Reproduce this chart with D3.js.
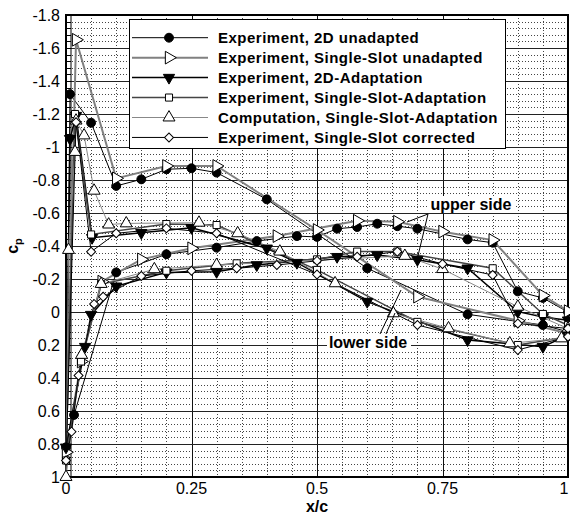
<!DOCTYPE html>
<html>
<head>
<meta charset="utf-8">
<script src="https://cdn.jsdelivr.net/npm/d3@7/dist/d3.min.js"></script>
<style>
body{margin:0;background:#fff;}
text{font-family:"Liberation Sans",Arial,Helvetica,sans-serif;}
</style>
</head>
<body>
<svg id="chart"></svg>
<script>

// axis ticks
var xTicks = [0, 0.25, 0.5, 0.75, 1];
var xTickLabels = ["0", "0.25", "0.5", "0.75", "1"];
var yTicks = [-1.8, -1.6, -1.4, -1.2, -1, -0.8, -0.6, -0.4, -0.2, 0, 0.2, 0.4, 0.6, 0.8, 1];
var yTickLabels = ["-1.8", "-1.6", "-1.4", "-1.2", "-1", "-0.8", "-0.6", "-0.4", "-0.2", "0", "0.2", "0.4", "0.6", "0.8", "1"];

var seriesNames = [
  "Experiment, 2D unadapted",
  "Experiment, Single-Slot unadapted",
  "Experiment, 2D-Adaptation",
  "Experiment, Single-Slot-Adaptation",
  "Computation, Single-Slot-Adaptation",
  "Experiment, Single-Slot corrected"
];

// each series: upper side from trailing edge to leading edge, then lower side back to trailing edge
var unadapted2dX  = [1.0, 0.95, 0.9, 0.85, 0.8, 0.7, 0.66, 0.62, 0.58, 0.54, 0.5, 0.46, 0.38, 0.3, 0.2, 0.1, 0.016, 0.0, 0.008, 0.05, 0.1, 0.15, 0.2, 0.25, 0.3, 0.4, 0.6, 0.8, 0.95, 1.0];
var unadapted2dCp = [0.0, -0.085, -0.125, -0.42, -0.44, -0.505, -0.52, -0.535, -0.515, -0.505, -0.455, -0.46, -0.43, -0.39, -0.35, -0.24, 0.624, 0.82, -1.32, -1.147, -0.764, -0.804, -0.865, -0.871, -0.845, -0.683, -0.265, 0.014, 0.079, 0.12];

var unadaptedSlotX  = [1.0, 0.95, 0.85, 0.75, 0.66, 0.58, 0.42, 0.25, 0.15, 0.071, 0.03, 0.0, 0.02, 0.1, 0.2, 0.3, 0.5, 0.7, 0.9, 1.0];
var unadaptedSlotCp = [-0.005, -0.1, -0.436, -0.487, -0.547, -0.553, -0.46, -0.386, -0.319, -0.184, 0.3, 0.85, -1.65, -0.81, -0.885, -0.885, -0.497, -0.093, 0.053, 0.13];

var adapted2dX  = [1.0, 0.95, 0.9, 0.8, 0.7, 0.62, 0.54, 0.38, 0.3, 0.2, 0.1, 0.05, 0.038, 0.0, 0.008, 0.02, 0.052, 0.15, 0.25, 0.4, 0.46, 0.6, 0.8, 0.95, 1.0];
var adapted2dCp = [0.05, 0.03, -0.002, -0.265, -0.317, -0.345, -0.335, -0.285, -0.244, -0.24, -0.156, 0.016, 0.21, 0.82, -1.05, -1.19, -0.45, -0.48, -0.51, -0.386, -0.299, -0.063, 0.17, 0.21, 0.14];

var adaptedSlotX  = [1.0, 0.95, 0.85, 0.66, 0.58, 0.5, 0.34, 0.2, 0.07, 0.03, 0.0, 0.018, 0.05, 0.2, 0.3, 0.5, 0.7, 0.9, 1.0];
var adaptedSlotCp = [0.08, 0.012, -0.265, -0.366, -0.366, -0.319, -0.295, -0.25, -0.17, 0.3, 0.9, -1.2, -0.47, -0.533, -0.527, -0.255, 0.06, 0.2, 0.15];

var computationX  = [1.0, 0.9, 0.75, 0.675, 0.3, 0.176, 0.07, 0.031, 0.0, 0.005, 0.018, 0.02, 0.036, 0.056, 0.085, 0.12, 0.265, 0.342, 0.426, 0.536, 0.652, 0.762, 0.884, 0.987];
var computationCp = [0.1, -0.032, -0.26, -0.34, -0.285, -0.259, -0.17, 0.26, 1.0, -0.376, -0.97, -1.16, -1.07, -0.735, -0.53, -0.537, -0.541, -0.477, -0.366, -0.174, 0.008, 0.099, 0.19, 0.16];

var correctedX  = [1.0, 0.9, 0.85, 0.75, 0.66, 0.58, 0.5, 0.42, 0.34, 0.25, 0.15, 0.074, 0.056, 0.025, 0.011, 0.0, 0.02, 0.05, 0.1, 0.2, 0.3, 0.5, 0.7, 0.9, 1.0];
var correctedCp = [0.1, 0.07, -0.224, -0.291, -0.366, -0.335, -0.31, -0.285, -0.265, -0.25, -0.218, -0.093, -0.048, 0.385, 0.725, 0.9, -1.15, -0.365, -0.477, -0.507, -0.477, -0.227, 0.079, 0.23, 0.15];

var makeChart = function(){
  var width = 570;
  var height = 516;

  var svg = d3.select("#chart")
    .attr("width", width)
    .attr("height", height);

  var x = d3.scaleLinear().domain([0, 1]).range([66, 568]);
  var y = d3.scaleLinear().domain([-1.8, 1]).range([15, 477]);

  var plot = svg.append("g");

// dotted minor grid
  var xMinor = d3.range(0.05, 1, 0.05).filter(function(v){ return Math.abs(v*4 - Math.round(v*4)) > 1e-6; });
  var yMinor = d3.range(-1.76, 1, 0.04).filter(function(v){ return Math.abs(v*5 - Math.round(v*5)) > 1e-6; });

  plot.selectAll("line.xminor")
     .data(xMinor)
     .enter()
     .append("line")
     .attr("x1", function(d){ return Math.round(x(d)) + 0.5; })
     .attr("x2", function(d){ return Math.round(x(d)) + 0.5; })
     .attr("y1", y(-1.8))
     .attr("y2", y(1))
     .attr("stroke", "#444")
     .attr("stroke-dasharray", "1,2");

  plot.selectAll("line.yminor")
     .data(yMinor)
     .enter()
     .append("line")
     .attr("x1", x(0))
     .attr("x2", x(1))
     .attr("y1", function(d){ return Math.round(y(d)) + 0.5; })
     .attr("y2", function(d){ return Math.round(y(d)) + 0.5; })
     .attr("stroke", "#444")
     .attr("stroke-dasharray", "1,2");

// solid major grid
  plot.selectAll("line.xmajor")
     .data(xTicks.slice(1, 4))
     .enter()
     .append("line")
     .attr("x1", function(d){ return Math.round(x(d)) + 0.5; })
     .attr("x2", function(d){ return Math.round(x(d)) + 0.5; })
     .attr("y1", y(-1.8))
     .attr("y2", y(1))
     .attr("stroke", "#111");

  plot.selectAll("line.ymajor")
     .data(yTicks.slice(1, yTicks.length - 1))
     .enter()
     .append("line")
     .attr("x1", x(0))
     .attr("x2", x(1))
     .attr("y1", function(d){ return Math.round(y(d)) + 0.5; })
     .attr("y2", function(d){ return Math.round(y(d)) + 0.5; })
     .attr("stroke", "#222");

// tick ladder along the left axis
  plot.selectAll("line.ytick")
     .data(d3.range(-1.8, 1.001, 0.04))
     .enter()
     .append("line")
     .attr("x1", x(0))
     .attr("x2", x(0) + 5)
     .attr("y1", function(d){ return Math.round(y(d)) + 0.5; })
     .attr("y2", function(d){ return Math.round(y(d)) + 0.5; })
     .attr("stroke", "#000");

  plot.append("line")
     .attr("x1", x(0) + 5).attr("x2", x(0) + 5)
     .attr("y1", y(-1.8)).attr("y2", y(1))
     .attr("stroke", "#000");

// frame
  plot.append("rect")
     .attr("x", x(0))
     .attr("y", y(-1.8))
     .attr("width", x(1) - x(0))
     .attr("height", y(1) - y(-1.8))
     .attr("fill", "none")
     .attr("stroke", "#000")
     .attr("stroke-width", 2);

// tick labels
  svg.selectAll("text.xlab")
     .data(xTicks)
     .enter()
     .append("text")
     .text(function(d, i){ return xTickLabels[i]; })
     .attr("x", function(d){ return Math.min(x(d), 564); })
     .attr("y", 494)
     .attr("text-anchor", "middle")
     .attr("font-size", 16)
     .attr("fill", "#000");

  svg.selectAll("text.ylab")
     .data(yTicks)
     .enter()
     .append("text")
     .text(function(d, i){ return yTickLabels[i]; })
     .attr("x", 60)
     .attr("y", function(d){ return y(d) + 6; })
     .attr("text-anchor", "end")
     .attr("font-size", 16)
     .attr("fill", "#000");

  svg.append("text")
     .text("x/c")
     .attr("x", 317)
     .attr("y", 512)
     .attr("text-anchor", "middle")
     .attr("font-size", 16)
     .attr("font-weight", "bold");

  var cp = svg.append("text")
     .attr("transform", "translate(18,246) rotate(-90)")
     .attr("text-anchor", "middle")
     .attr("font-size", 16)
     .attr("font-weight", "bold");
  cp.append("tspan").text("c");
  cp.append("tspan").text("p").attr("font-size", 11).attr("dy", 4);

// series
  var series = [
    {xs: unadapted2dX,  ys: unadapted2dCp,  sym: d3.symbolCircle,   size: 62, rot: 0,   fill: "#000", line: "#000",    lw: 1},
    {xs: unadaptedSlotX, ys: unadaptedSlotCp, sym: d3.symbolTriangle, size: 70, rot: 90,  fill: "#fff", line: "#808080", lw: 2},
    {xs: adapted2dX,    ys: adapted2dCp,    sym: d3.symbolTriangle, size: 55, rot: 180, fill: "#000", line: "#000",    lw: 1.5},
    {xs: adaptedSlotX,  ys: adaptedSlotCp,  sym: d3.symbolSquare,   size: 50, rot: 0,   fill: "#fff", line: "#444",    lw: 1.5},
    {xs: computationX,  ys: computationCp,  sym: d3.symbolTriangle, size: 62, rot: 0,   fill: "#fff", line: "#888",    lw: 1},
    {xs: correctedX,    ys: correctedCp,    sym: d3.symbolSquare,   size: 40, rot: 45,  fill: "#fff", line: "#000",    lw: 1}
  ];

  var line = d3.line()
     .x(function(d){ return x(d[0]); })
     .y(function(d){ return y(d[1]); });

  series.forEach(function(s){
    var pts = s.xs.map(function(v, i){ return [v, s.ys[i]]; });
    plot.append("path")
       .attr("d", line(pts))
       .attr("fill", "none")
       .attr("stroke", s.line)
       .attr("stroke-width", s.lw);
  });

  series.forEach(function(s){
    var pts = s.xs.map(function(v, i){ return [v, s.ys[i]]; });
    plot.selectAll(null)
       .data(pts)
       .enter()
       .append("path")
       .attr("d", d3.symbol().type(s.sym).size(s.size))
       .attr("transform", function(d){ return "translate(" + x(d[0]) + "," + y(d[1]) + ") rotate(" + s.rot + ")"; })
       .attr("fill", s.fill)
       .attr("stroke", "#000")
       .attr("stroke-width", 1);
  });

// side labels
  var labels = svg.append("g");
  labels.append("rect").attr("x", 429).attr("y", 196).attr("width", 85).attr("height", 17).attr("fill", "#fff");
  labels.append("text").text("upper side").attr("x", 471).attr("y", 210).attr("text-anchor", "middle")
     .attr("font-size", 16).attr("font-weight", "bold");
  labels.append("line").attr("x1", 428).attr("y1", 214).attr("x2", 407).attr("y2", 222).attr("stroke", "#000");
  labels.append("line").attr("x1", 428).attr("y1", 214).attr("x2", 417).attr("y2", 260).attr("stroke", "#000");

  labels.append("rect").attr("x", 327).attr("y", 334).attr("width", 84).attr("height", 17).attr("fill", "#fff");
  labels.append("text").text("lower side").attr("x", 368).attr("y", 348).attr("text-anchor", "middle")
     .attr("font-size", 16).attr("font-weight", "bold");
  labels.append("line").attr("x1", 380).attr("y1", 334).attr("x2", 401).attr("y2", 290).attr("stroke", "#000");
  labels.append("line").attr("x1", 386).attr("y1", 334).attr("x2", 395).attr("y2", 313).attr("stroke", "#000");

// legend
  var leg = svg.append("g");
  leg.append("rect")
     .attr("x", 129.5).attr("y", 19.5).attr("width", 376).attr("height", 129)
     .attr("fill", "#fff").attr("stroke", "#000");

  var rows = leg.selectAll("g.row")
     .data(series)
     .enter()
     .append("g")
     .attr("transform", function(d, i){ return "translate(0," + (37.7 + i*19.95) + ")"; });

  rows.append("line")
     .attr("x1", 132).attr("x2", 208).attr("y1", 0).attr("y2", 0)
     .attr("stroke", function(d){ return d.line; })
     .attr("stroke-width", function(d){ return d.lw; });

  rows.append("path")
     .attr("d", function(d){ return d3.symbol().type(d.sym).size(d.size)(); })
     .attr("transform", function(d){ return "translate(169,0) rotate(" + d.rot + ")"; })
     .attr("fill", function(d){ return d.fill; })
     .attr("stroke", "#000");

  rows.append("text")
     .text(function(d, i){ return seriesNames[i]; })
     .attr("x", 218)
     .attr("y", 5.5)
     .attr("font-size", 15)
     .attr("letter-spacing", 0.5)
     .attr("font-weight", "bold")
     .attr("fill", "#000");
}

makeChart()
</script>
</body>
</html>
